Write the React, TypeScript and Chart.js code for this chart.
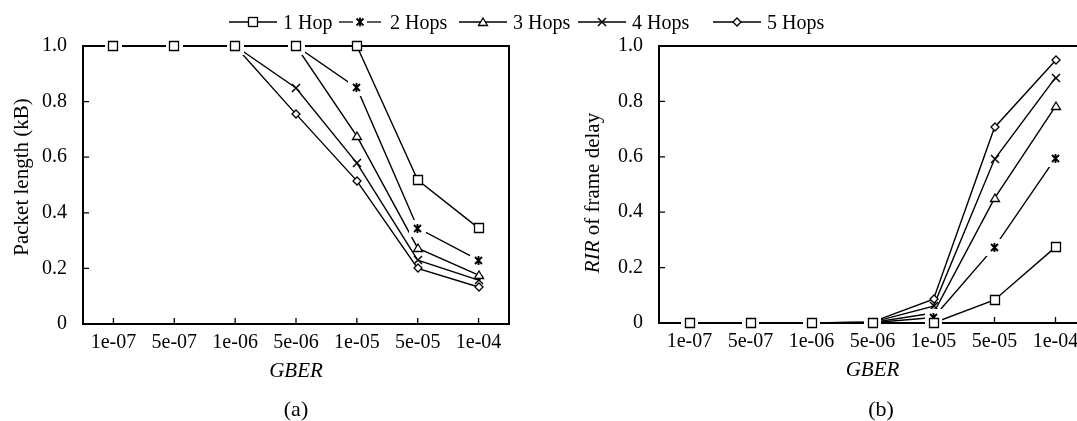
import React, { useEffect, useRef } from 'react';
import { Chart, registerables } from 'chart.js';

Chart.register(...registerables);

const SERIF = "'Liberation Serif', 'Times New Roman', serif";

// ---- data ----
const categories = ['1e-07', '5e-07', '1e-06', '5e-06', '1e-05', '5e-05', '1e-04'];
const seriesNames = ['1 Hop', '2 Hops', '3 Hops', '4 Hops', '5 Hops'];
const yTickLabels = ['0', '0.2', '0.4', '0.6', '0.8', '1.0'];

// (a) Packet length (kB)
const pktHop1 = [1, 1, 1, 1, 1, 0.518, 0.345];
const pktHop2 = [1, 1, 1, 1, 0.849, 0.345, 0.23];
const pktHop3 = [1, 1, 1, 1, 0.676, 0.273, 0.176];
const pktHop4 = [1, 1, 1, 0.849, 0.579, 0.23, 0.158];
const pktHop5 = [1, 1, 1, 0.755, 0.515, 0.2, 0.133];

// (b) RIR of frame delay
const rirHop1 = [0, 0, 0, 0, 0, 0.083, 0.274];
const rirHop2 = [0, 0, 0, 0.001, 0.02, 0.274, 0.595];
const rirHop3 = [0, 0, 0, 0.002, 0.036, 0.45, 0.782];
const rirHop4 = [0, 0, 0, 0.003, 0.061, 0.591, 0.886];
const rirHop5 = [0, 0, 0, 0.004, 0.086, 0.706, 0.948];

const markerKinds = ['square', 'star', 'triangle', 'cross', 'diamond'];

function makeMarker(kind: string): HTMLCanvasElement {
  const size = kind === 'star' ? 17 : 12;
  const c = document.createElement('canvas');
  c.width = size;
  c.height = size;
  const g = c.getContext('2d') as CanvasRenderingContext2D;
  const m = size / 2;
  g.strokeStyle = '#000';
  g.fillStyle = '#fff';
  g.lineWidth = 1.3;
  g.beginPath();
  if (kind === 'square') {
    g.rect(m - 4.5, m - 4.5, 9, 9);
    g.fill();
    g.stroke();
  } else if (kind === 'star') {
    g.fillRect(0, 0, size, size);
    g.lineWidth = 1.9;
    g.moveTo(m - 3.5, m - 3.5);
    g.lineTo(m + 3.5, m + 3.5);
    g.moveTo(m + 3.5, m - 3.5);
    g.lineTo(m - 3.5, m + 3.5);
    g.moveTo(m, m - 4.5);
    g.lineTo(m, m + 4.5);
    g.stroke();
  } else if (kind === 'triangle') {
    g.moveTo(m, m - 4);
    g.lineTo(m + 4.5, m + 3.5);
    g.lineTo(m - 4.5, m + 3.5);
    g.closePath();
    g.fill();
    g.stroke();
  } else if (kind === 'cross') {
    g.lineWidth = 1.5;
    g.moveTo(m - 4, m - 4);
    g.lineTo(m + 4, m + 4);
    g.moveTo(m + 4, m - 4);
    g.lineTo(m - 4, m + 4);
    g.stroke();
  } else {
    g.moveTo(m, m - 4);
    g.lineTo(m + 4, m);
    g.lineTo(m, m + 4);
    g.lineTo(m - 4, m);
    g.closePath();
    g.fill();
    g.stroke();
  }
  return c;
}

type Part = { text: string; italic?: boolean };

function makeOverlay(parts: Part[], titleDx: number, titleDy: number, caption: string, captionDx: number, captionY: number) {
  let markers: HTMLCanvasElement[] | null = null;
  return {
    id: 'overlay',
    beforeDatasetsDraw(chart: any) {
      const { ctx, chartArea: a, scales } = chart;
      ctx.save();
      ctx.strokeStyle = '#000';
      ctx.lineWidth = 2;
      ctx.strokeRect(a.left, a.top, a.right - a.left, a.bottom - a.top);
      ctx.lineWidth = 1.3;
      ctx.beginPath();
      categories.forEach((_, i) => {
        const px = scales.x.getPixelForValue(i);
        ctx.moveTo(px, a.bottom);
        ctx.lineTo(px, a.bottom - 6);
      });
      scales.y.ticks.forEach((t: any) => {
        const py = scales.y.getPixelForValue(t.value);
        ctx.moveTo(a.left, py);
        ctx.lineTo(a.left + 6, py);
      });
      ctx.stroke();
      ctx.restore();
    },
    afterDatasetsDraw(chart: any) {
      if (!markers) markers = markerKinds.map(makeMarker);
      const ctx = chart.ctx;
      for (let i = chart.data.datasets.length - 1; i >= 0; i--) {
        const img = markers[i];
        const meta = chart.getDatasetMeta(i);
        meta.data.forEach((p: any) => {
          ctx.drawImage(img, Math.round(p.x - img.width / 2), Math.round(p.y - img.height / 2));
        });
      }
    },
    afterDraw(chart: any) {
      const { ctx, chartArea: a } = chart;
      ctx.save();
      ctx.fillStyle = '#000';
      ctx.textBaseline = 'middle';
      // y axis title
      ctx.save();
      ctx.translate(a.left - titleDx, (a.top + a.bottom) / 2 + titleDy);
      ctx.rotate(-Math.PI / 2);
      ctx.textAlign = 'left';
      const fontOf = (p: Part) => `${p.italic ? 'italic ' : ''}21px ${SERIF}`;
      let total = 0;
      const widths = parts.map((p) => {
        ctx.font = fontOf(p);
        const w = ctx.measureText(p.text).width;
        total += w;
        return w;
      });
      let x = -total / 2;
      parts.forEach((p, i) => {
        ctx.font = fontOf(p);
        ctx.fillText(p.text, x, 0);
        x += widths[i];
      });
      ctx.restore();
      // caption
      ctx.textAlign = 'center';
      ctx.font = `22px ${SERIF}`;
      ctx.fillText(caption, (a.left + a.right) / 2 + captionDx, captionY);
      ctx.restore();
    },
  };
}

type PanelProps = {
  left: number;
  width: number;
  series: number[][];
  parts: Part[];
  titleDx: number;
  titleDy: number;
  caption: string;
  captionDx: number;
  areaLeft: number;
  areaRight: number;
  areaTop: number;
  areaBottom: number;
};

const H = 421;
const X_AXIS_H = 60;

function Panel(props: PanelProps) {
  const ref = useRef<HTMLCanvasElement>(null);
  useEffect(() => {
    const { width, series, parts, titleDx, titleDy, caption, captionDx, areaLeft, areaRight, areaTop, areaBottom } = props;
    const tickFont = { family: SERIF, size: 20, lineHeight: 1.2 };
    const chart = new Chart(ref.current as HTMLCanvasElement, {
      type: 'line',
      data: {
        labels: categories,
        datasets: series.map((d, i) => ({
          label: seriesNames[i],
          data: d,
          borderColor: '#000',
          backgroundColor: '#000',
          borderWidth: 1.4,
          pointRadius: 0,
          pointHoverRadius: 0,
          fill: false,
          tension: 0,
        })),
      },
      options: {
        responsive: false,
        animation: false,
        events: [],
        layout: {
          padding: { left: 0, top: areaTop, right: width - areaRight, bottom: H - areaBottom - X_AXIS_H },
        },
        plugins: {
          legend: { display: false },
          tooltip: { enabled: false },
          title: { display: false },
        },
        scales: {
          x: {
            type: 'category',
            offset: true,
            grid: { display: false, drawTicks: false },
            border: { display: false },
            ticks: { color: '#000', font: tickFont, padding: 7, autoSkip: false, maxRotation: 0, minRotation: 0 },
            title: {
              display: true,
              text: 'GBER',
              color: '#000',
              font: { family: SERIF, size: 21, style: 'italic', lineHeight: 1.2 },
              padding: { top: 0, bottom: 0 },
            },
            afterFit: (s: any) => {
              s.height = X_AXIS_H;
            },
          },
          y: {
            min: 0,
            max: 1,
            grid: { display: false, drawTicks: false },
            border: { display: false },
            ticks: {
              stepSize: 0.2,
              color: '#000',
              font: tickFont,
              padding: 16,
              callback: (v: any) => yTickLabels[Math.round(Number(v) / 0.2)],
            },
            afterFit: (s: any) => {
              s.width = areaLeft;
            },
          },
        },
      } as any,
      plugins: [makeOverlay(parts, titleDx, titleDy, caption, captionDx, 410)],
    });
    return () => chart.destroy();
  }, []);
  return (
    <canvas
      ref={ref}
      width={props.width}
      height={H}
      style={{ position: 'absolute', left: props.left, top: 0, width: props.width, height: H }}
    />
  );
}

function LegendSymbol({ kind }: { kind: string }) {
  const s = { stroke: '#000', strokeWidth: 1.3, fill: 'none' };
  let marker: React.ReactNode = null;
  if (kind === 'square') marker = <rect x={20.5} y={5.5} width={9} height={9} fill="#fff" stroke="#000" strokeWidth={1.3} />;
  else if (kind === 'star')
    marker = <path d="M21.5 6.5 L28.5 13.5 M28.5 6.5 L21.5 13.5 M25 5.5 L25 14.5" stroke="#000" strokeWidth={1.8} fill="none" />;
  else if (kind === 'triangle') marker = <polygon points="25,6 29.5,13.5 20.5,13.5" fill="#fff" stroke="#000" strokeWidth={1.3} />;
  else if (kind === 'cross') marker = <path d="M21 6 L29 14 M29 6 L21 14" stroke="#000" strokeWidth={1.5} fill="none" />;
  else marker = <polygon points="25,6 29,10 25,14 21,10" fill="#fff" stroke="#000" strokeWidth={1.3} />;
  return (
    <svg width={50} height={20} style={{ position: 'absolute', left: 0, top: 0 }}>
      {kind === 'star' ? (
        <>
          <line x1={4} y1={10} x2={18} y2={10} {...s} />
          <line x1={32} y1={10} x2={46} y2={10} {...s} />
        </>
      ) : (
        <line x1={1} y1={10} x2={49} y2={10} {...s} />
      )}
      {marker}
    </svg>
  );
}

const legendCenters = [253, 360, 483, 602, 737];

function Legend() {
  return (
    <>
      {seriesNames.map((name, i) => (
        <div key={name} style={{ position: 'absolute', left: legendCenters[i] - 25, top: 12, width: 200, height: 20 }}>
          <LegendSymbol kind={markerKinds[i]} />
          <span
            style={{
              position: 'absolute',
              left: 55,
              top: 0,
              fontFamily: SERIF,
              fontSize: 20,
              lineHeight: '20px',
              whiteSpace: 'nowrap',
              color: '#000',
            }}
          >
            {name}
          </span>
        </div>
      ))}
    </>
  );
}

export default function App() {
  return (
    <div
      style={{
        position: 'fixed',
        left: 0,
        top: 0,
        width: 1077,
        height: 421,
        overflow: 'hidden',
        background: '#fff',
      }}
    >
      <Panel
        left={0}
        width={540}
        series={[pktHop1, pktHop2, pktHop3, pktHop4, pktHop5]}
        parts={[{ text: 'Packet length (kB)' }]}
        titleDx={61}
        titleDy={-8}
        caption="(a)"
        captionDx={0}
        areaLeft={83}
        areaRight={509}
        areaTop={46}
        areaBottom={324}
      />
      <Panel
        left={540}
        width={560}
        series={[rirHop1, rirHop2, rirHop3, rirHop4, rirHop5]}
        parts={[{ text: 'RIR', italic: true }, { text: ' of frame delay' }]}
        titleDx={66}
        titleDy={8.5}
        caption="(b)"
        captionDx={8.5}
        areaLeft={119}
        areaRight={546}
        areaTop={46}
        areaBottom={323}
      />
      <Legend />
    </div>
  );
}
